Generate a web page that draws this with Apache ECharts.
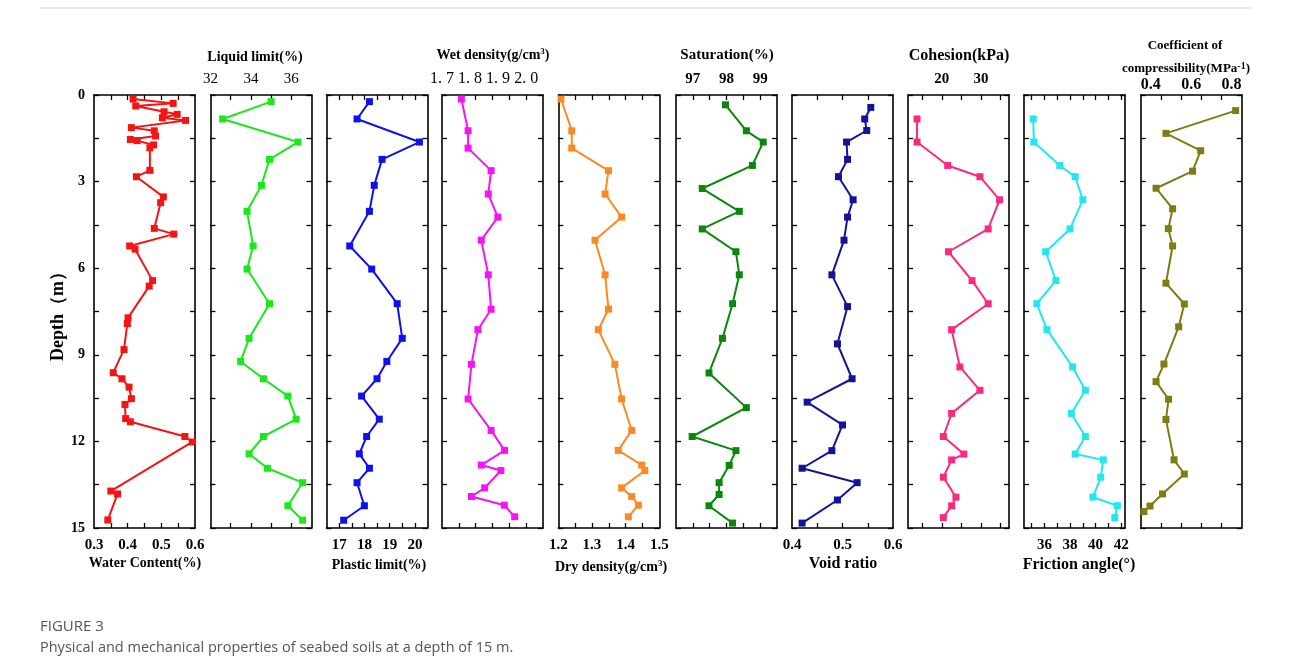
<!DOCTYPE html>
<html><head><meta charset="utf-8">
<script src="https://cdn.jsdelivr.net/npm/echarts@6/dist/echarts.min.js"></script>
<style>html,body{margin:0;padding:0;background:#fff}#c{width:1290px;height:668px}</style>
</head><body><div id="c"></div><script>
// ---------------- data ----------------
const waterDepth = [0.14,0.29,0.38,0.58,0.67,0.79,0.88,1.13,1.24,1.42,1.54,1.58,1.73,1.83,2.61,2.83,3.53,3.73,4.62,4.82,5.23,5.34,6.43,6.62,7.72,7.92,8.82,9.62,9.83,10.12,10.52,10.72,11.21,11.32,11.83,12.02,13.72,13.82,14.72];
const waterContent = [0.416,0.535,0.424,0.508,0.547,0.503,0.572,0.411,0.479,0.483,0.408,0.428,0.477,0.466,0.466,0.426,0.506,0.498,0.479,0.537,0.406,0.422,0.474,0.464,0.401,0.399,0.389,0.357,0.383,0.404,0.411,0.392,0.394,0.408,0.570,0.592,0.350,0.370,0.341];

const limitDepth = [0.23,0.83,1.63,2.23,3.13,4.03,5.23,6.03,7.23,8.43,9.23,9.83,10.43,11.23,11.83,12.43,12.93,13.43,14.23,14.73];
const liquidLimit = [35.0,32.6,36.33,34.92,34.52,33.81,34.11,33.81,34.92,33.91,33.49,34.62,35.83,36.24,34.62,33.91,34.82,36.56,35.83,36.56];
const plasticLimit = [18.2,17.71,20.18,18.7,18.39,18.2,17.42,18.29,19.3,19.5,18.89,18.5,17.89,18.59,18.09,17.8,18.2,17.71,18.0,17.18];

const densityDepth = [0.14,1.24,1.84,2.62,3.43,4.23,5.03,6.23,7.42,8.13,9.33,10.53,11.62,12.31,12.82,13.01,13.61,13.91,14.21,14.61];
const wetDensity = [1.769,1.793,1.793,1.875,1.865,1.899,1.84,1.865,1.875,1.828,1.805,1.793,1.875,1.923,1.84,1.91,1.852,1.805,1.922,1.959];
const dryDensity = [1.208,1.24,1.24,1.349,1.339,1.388,1.309,1.339,1.349,1.319,1.368,1.388,1.418,1.378,1.448,1.457,1.388,1.418,1.438,1.408];

const satDepth = [0.34,1.24,1.63,2.44,3.24,4.03,4.64,5.43,6.23,7.23,8.43,9.63,10.83,11.83,12.32,12.83,13.43,13.84,14.23,14.83];
const saturation = [97.97,98.59,99.09,98.77,97.28,98.38,97.28,98.28,98.38,98.18,97.88,97.48,98.59,96.98,98.28,98.08,97.78,97.78,97.48,98.18];

const voidDepth = [0.43,0.83,1.23,1.63,2.23,2.83,3.63,4.23,5.03,6.23,7.33,8.62,9.83,10.64,11.43,12.32,12.93,13.43,14.03,14.83];
const voidRatio = [0.556,0.544,0.548,0.508,0.51,0.492,0.521,0.51,0.503,0.479,0.51,0.49,0.519,0.43,0.5,0.479,0.42,0.529,0.49,0.42];

const strengthDepth = [0.83,1.63,2.44,2.83,3.63,4.64,5.43,6.43,7.23,8.13,9.42,10.23,11.03,11.83,12.44,12.64,13.24,13.93,14.23,14.64];
const cohesion = [13.7,13.7,21.5,29.7,34.7,31.8,21.7,27.7,31.8,22.5,24.6,29.7,22.5,20.4,25.6,22.5,20.4,23.6,22.5,20.4];
const frictionAngle = [35.12,35.17,37.2,38.4,39.0,38.0,36.1,36.9,35.4,36.2,38.2,39.2,38.1,39.2,38.4,40.6,40.4,39.8,41.7,41.5];

const compDepth = [0.54,1.33,1.93,2.64,3.23,3.94,4.63,5.23,6.52,7.24,8.03,9.32,9.93,10.54,11.24,12.64,13.13,13.82,14.24,14.43];
const compressibility = [0.82,0.475,0.647,0.607,0.426,0.508,0.487,0.508,0.475,0.566,0.538,0.465,0.426,0.488,0.475,0.515,0.566,0.458,0.396,0.366];

// tick labels / tick positions
const depthLabels = [0,3,6,9,12,15];
const waterLabels = [0.3,0.4,0.5,0.6], waterTicks = [0.35,0.4,0.45,0.5,0.55];
const liquidLabels = [32,34,36], liquidTicks = [33,34,35,36];
const plasticLabels = [17,18,19,20], plasticTicks = [17,17.5,18,18.5,19,19.5,20];
const wetLabels = [1.7,1.8,1.9,2.0], wetTicks = [1.76,1.82,1.88,1.94,2.0];
const dryLabels = [1.2,1.3,1.4,1.5], dryTicks = [1.25,1.3,1.35,1.4,1.45];
const satLabels = [97,98,99], satTicks = [97,97.5,98,98.5,99];
const voidLabels = [0.4,0.5,0.6], voidTicks = [0.45,0.5,0.55];
const cohLabels = [20,30], cohTicks = [15,20,25,30,35];
const fricLabels = [36,38,40,42], fricTicks = [35,36,37,38,39,40,41,42];
const compLabels = [0.4,0.6,0.8], compTicks = [0.45,0.55,0.65,0.75];

// ---------------- layout ----------------
const SERIF = '"Liberation Serif","Times New Roman",serif';
const TOP = 95, H = 433, W = 101;
const panels = [
  {left:94,   min:0.3,  max:0.6,  ticks:waterTicks,   labels:waterLabels,   pos:'bottom', color:'#f41414', d:waterDepth,    v:waterContent, fmt:v=>v.toFixed(1), bold:true, size:15, margin:10},
  {left:210.5,min:32,   max:37,   ticks:liquidTicks,  labels:liquidLabels,  pos:'top',    color:'#1be81b', d:limitDepth,    v:liquidLimit, fmt:v=>String(v), bold:false, size:15, margin:8},
  {left:326.5,min:16.5, max:20.5, ticks:plasticTicks, labels:plasticLabels, pos:'bottom', color:'#1010ee', d:limitDepth,    v:plasticLimit, fmt:v=>String(v), bold:true, size:15, margin:10},
  {left:442,  min:1.7,  max:2.06, ticks:wetTicks,     labels:wetLabels,     pos:'top',    color:'#f514f5', d:densityDepth,  v:wetDensity, fmt:v=>v.toFixed(1).replace('.', '. '), bold:false, size:16, margin:8},
  {left:558.3,min:1.2,  max:1.5,  ticks:dryTicks,     labels:dryLabels,     pos:'bottom', color:'#fb8a22', d:densityDepth,  v:dryDensity, fmt:v=>v.toFixed(1), bold:true, size:15, margin:10},
  {left:676,  min:96.5, max:99.5, ticks:satTicks,     labels:satLabels,     pos:'top',    color:'#0b880b', d:satDepth,      v:saturation, fmt:v=>String(v), bold:true, size:15, margin:8},
  {left:792,  min:0.4,  max:0.6,  ticks:voidTicks,    labels:voidLabels,    pos:'bottom', color:'#13139a', d:voidDepth,     v:voidRatio, fmt:v=>v.toFixed(1), bold:true, size:15, margin:10},
  {left:908,  min:11.4, max:37.1, ticks:cohTicks,     labels:cohLabels,     pos:'top',    color:'#fb2a80', d:strengthDepth, v:cohesion, fmt:v=>String(v), bold:true, size:15, margin:8},
  {left:1024, min:34.4, max:42.3, ticks:fricTicks,    labels:fricLabels,    pos:'bottom', color:'#22e6f0', d:strengthDepth, v:frictionAngle, fmt:v=>String(v), bold:true, size:15, margin:10},
  {left:1140.7,min:0.35,max:0.85, ticks:compTicks,    labels:compLabels,    pos:'top',    color:'#7d7d12', d:compDepth,     v:compressibility, fmt:v=>v.toFixed(1), bold:true, size:16, margin:2}
];

const grid = [], xAxis = [], yAxis = [], series = [];
const lineStyle = {color:'#000', width:1.6};
panels.forEach((p, i) => {
  grid.push({left:p.left, top:TOP, width:W, height:H});
  ['top','bottom'].forEach(side => {
    const lab = side === p.pos;
    xAxis.push({
      type:'value', gridIndex:i, position:side, min:p.min, max:p.max,
      axisLine:{show:true, onZero:false, lineStyle},
      axisTick:{show:true, inside:true, length:5, lineStyle:{color:'#000', width:1.3}, customValues:p.ticks},
      axisLabel:{show:lab, customValues:p.labels, formatter:p.fmt, color:'#000', fontFamily:SERIF,
        fontWeight:p.bold?'bold':'normal', fontSize:p.size, margin:p.margin, hideOverlap:false},
      splitLine:{show:false}
    });
  });
  ['left','right'].forEach(side => {
    const lab = i === 0 && side === 'left';
    yAxis.push({
      type:'value', gridIndex:i, position:side, inverse:true, min:0, max:15, interval:1.5,
      axisLine:{show:true, onZero:false, lineStyle},
      axisTick:{show:true, inside:true, length:5, lineStyle:{color:'#000', width:1.3}},
      axisLabel:{show:lab, customValues:depthLabels, color:'#000', fontFamily:SERIF, fontWeight:'bold', fontSize:14, margin:9},
      splitLine:{show:false}
    });
  });
  series.push({
    type:'line', xAxisIndex:2*i + (p.pos==='top'?0:1), yAxisIndex:2*i,
    data:p.v.map((v, k) => [v, p.d[k]]),
    symbol:'rect', symbolSize:7, showSymbol:true,
    lineStyle:{color:p.color, width:2}, itemStyle:{color:p.color},
    animation:false, silent:true
  });
});

const tStyle = (size) => ({fill:'#000', font:'bold '+size+'px '+SERIF, textAlign:'center', textVerticalAlign:'middle'});
const txt = (x, y, text, size) => ({type:'text', x, y, style:Object.assign({text}, tStyle(size))});
const sup = (size) => ({s:{fontSize:size, verticalAlign:'top', padding:[0,0,6,0], fontFamily:SERIF, fontWeight:'bold'}});
const graphic = [
  {type:'line', shape:{x1:40, y1:8, x2:1252, y2:8}, style:{stroke:'#d9d9d9', lineWidth:1}},
  txt(255, 57, 'Liquid limit(%)', 14),
  {type:'text', x:493, y:55, style:{text:'Wet density(g/cm{s|3})', rich:sup(9), fill:'#000', font:'bold 14px '+SERIF, textAlign:'center', textVerticalAlign:'middle'}},
  txt(727, 55, 'Saturation(%)', 15),
  txt(959, 56, 'Cohesion(kPa)', 16),
  txt(1185, 46, 'Coefficient of', 13),
  {type:'text', x:1186, y:69, style:{text:'compressibility(MPa{s|-1})', rich:sup(10), fill:'#000', font:'bold 13px '+SERIF, textAlign:'center', textVerticalAlign:'middle'}},
  txt(145, 563, 'Water Content(%)', 14),
  txt(379, 565, 'Plastic limit(%)', 14),
  {type:'text', x:611, y:567, style:{text:'Dry density(g/cm{s|3})', rich:sup(9), fill:'#000', font:'bold 14px '+SERIF, textAlign:'center', textVerticalAlign:'middle'}},
  txt(843, 564, 'Void ratio', 16),
  txt(1079, 565, 'Friction angle(°)', 16),
  {type:'text', x:58, y:312, rotation:Math.PI/2, style:Object.assign({text:'Depth（m）'}, tStyle(18))},
  {type:'text', x:40, y:627, style:{text:'FIGURE 3', fill:'#555', font:'15px "Open Sans","Noto Sans",sans-serif', textVerticalAlign:'middle'}},
  {type:'text', x:40, y:648, style:{text:'Physical and mechanical properties of seabed soils at a depth of 15 m.', fill:'#555', font:'14.5px "Open Sans","Noto Sans",sans-serif', textVerticalAlign:'middle'}}
];

const chart = echarts.init(document.getElementById('c'), null, {renderer:'canvas'});
chart.setOption({animation:false, backgroundColor:'#fff', grid, xAxis, yAxis, series, graphic});
</script></body></html>
